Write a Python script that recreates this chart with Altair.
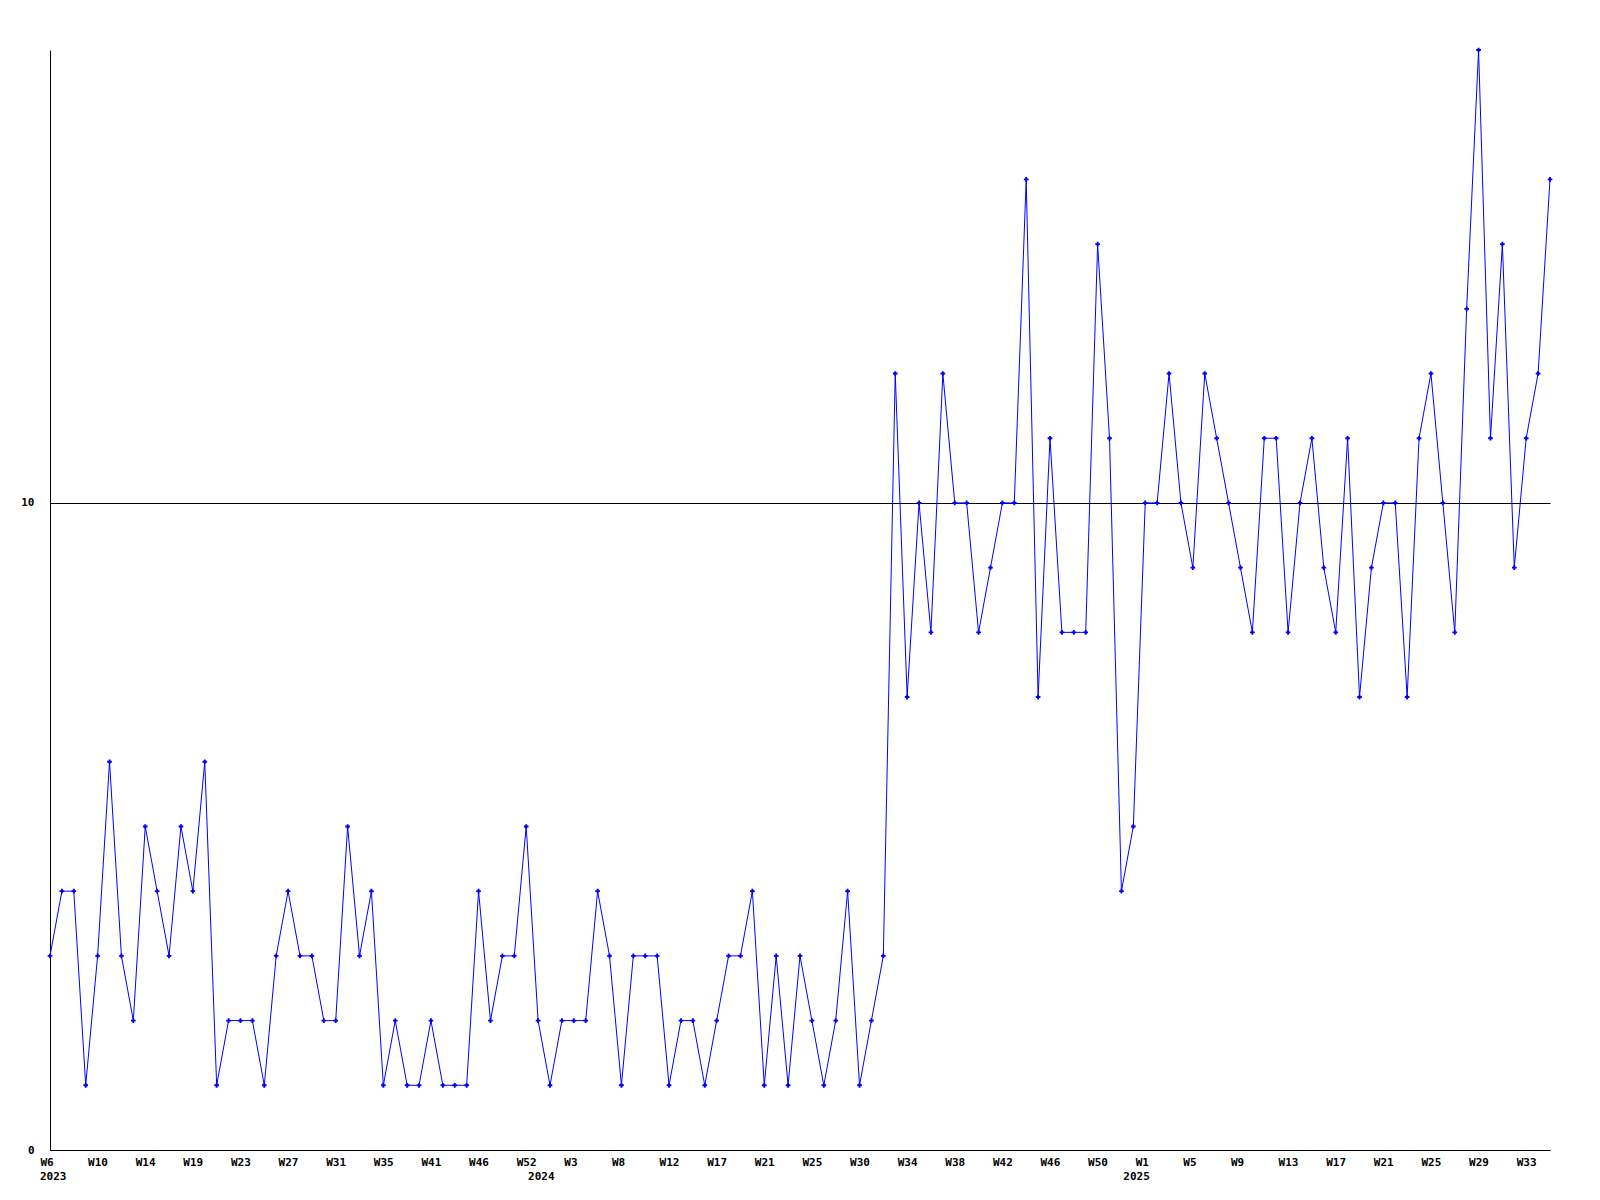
import altair as alt
import pandas as pd

# Weekly values (evenly spaced points), 2023-W6 .. 2025-W35
values = [
    3, 4, 4, 1, 3, 6, 3, 2, 5, 4, 3, 5, 4, 6, 1, 2, 2, 2, 1, 3,
    4, 3, 3, 2, 2, 5, 3, 4, 1, 2, 1, 1, 2, 1, 1, 1, 4, 2, 3, 3,
    5, 2, 1, 2, 2, 2, 4, 3, 1, 3, 3, 3, 1, 2, 2, 1, 2, 3, 3, 4,
    1, 3, 1, 3, 2, 1, 2, 4, 1, 2, 3, 12, 7, 10, 8, 12, 10, 10, 8, 9,
    10, 10, 15, 7, 11, 8, 8, 8, 14, 11, 4, 5, 10, 10, 12, 10, 9, 12, 11, 10,
    9, 8, 11, 11, 8, 10, 11, 9, 8, 11, 7, 9, 10, 10, 7, 11, 12, 10, 8, 13,
    17, 11, 14, 9, 11, 12, 15,
]

# Tick labels, one every 4 points
week_labels = [
    "W6", "W10", "W14", "W19", "W23", "W27", "W31", "W35", "W41", "W46",
    "W52", "W3", "W8", "W12", "W17", "W21", "W25", "W30", "W34", "W38",
    "W42", "W46", "W50", "W1", "W5", "W9", "W13", "W17", "W21", "W25",
    "W29", "W33",
]
tick_step = 4

year_labels = ["2023", "2024", "2025"]
year_index = [0, 41, 91]

y_ticks = [0, 10]

df = pd.DataFrame({"i": list(range(len(values))), "v": values})
years = pd.DataFrame({"i": year_index, "t": year_labels})

tick_values = [k * tick_step for k in range(len(week_labels))]
label_expr = "[" + ",".join(f"'{w}'" for w in week_labels) + f"][round(datum.value/{tick_step})]"

FONT = "DejaVu Sans Mono"
BLUE = "#0000ff"

x = alt.X(
    "i:Q",
    scale=alt.Scale(domain=[0, len(values) - 1], nice=False, zero=False),
    axis=alt.Axis(
        values=tick_values,
        labelExpr=label_expr,
        title=None,
        grid=False,
        ticks=False,
        domainColor="black",
        labelAlign="left",
        labelOffset=-10,
        labelPadding=6,
        labelFont=FONT,
        labelFontWeight="bold",
        labelFontSize=11,
        labelColor="black",
        labelOverlap=False,
        labelFlush=False,
    ),
)
y = alt.Y(
    "v:Q",
    scale=alt.Scale(domain=[0, 17], nice=False),
    axis=alt.Axis(
        values=y_ticks,
        format="d",
        title=None,
        grid=True,
        gridColor="black",
        gridOpacity=1,
        ticks=False,
        domainColor="black",
        labelPadding=16,
        labelFont=FONT,
        labelFontWeight="bold",
        labelFontSize=11,
        labelColor="black",
    ),
)

line = alt.Chart(df).mark_line(color=BLUE, strokeWidth=1).encode(x=x, y=y)
pts = alt.Chart(df).mark_point(
    shape="cross", filled=True, color=BLUE, size=22, opacity=1
).encode(x="i:Q", y="v:Q")

year_text = alt.Chart(years).mark_text(
    align="left", baseline="top", dx=-10, font=FONT, fontWeight="bold",
    fontSize=11, color="black"
).encode(x="i:Q", y=alt.value(1121), text="t:N")

chart = (
    alt.layer(line, pts, year_text)
    .properties(
        width=1500,
        height=1100,
        autosize=alt.AutoSizeParams(type="none"),
        padding={"left": 42, "top": 42, "right": 20, "bottom": 40},
        background="white",
    )
    .configure_view(strokeWidth=0)
)

chart.save("out.html", embed_options={"renderer": "svg", "actions": False})
